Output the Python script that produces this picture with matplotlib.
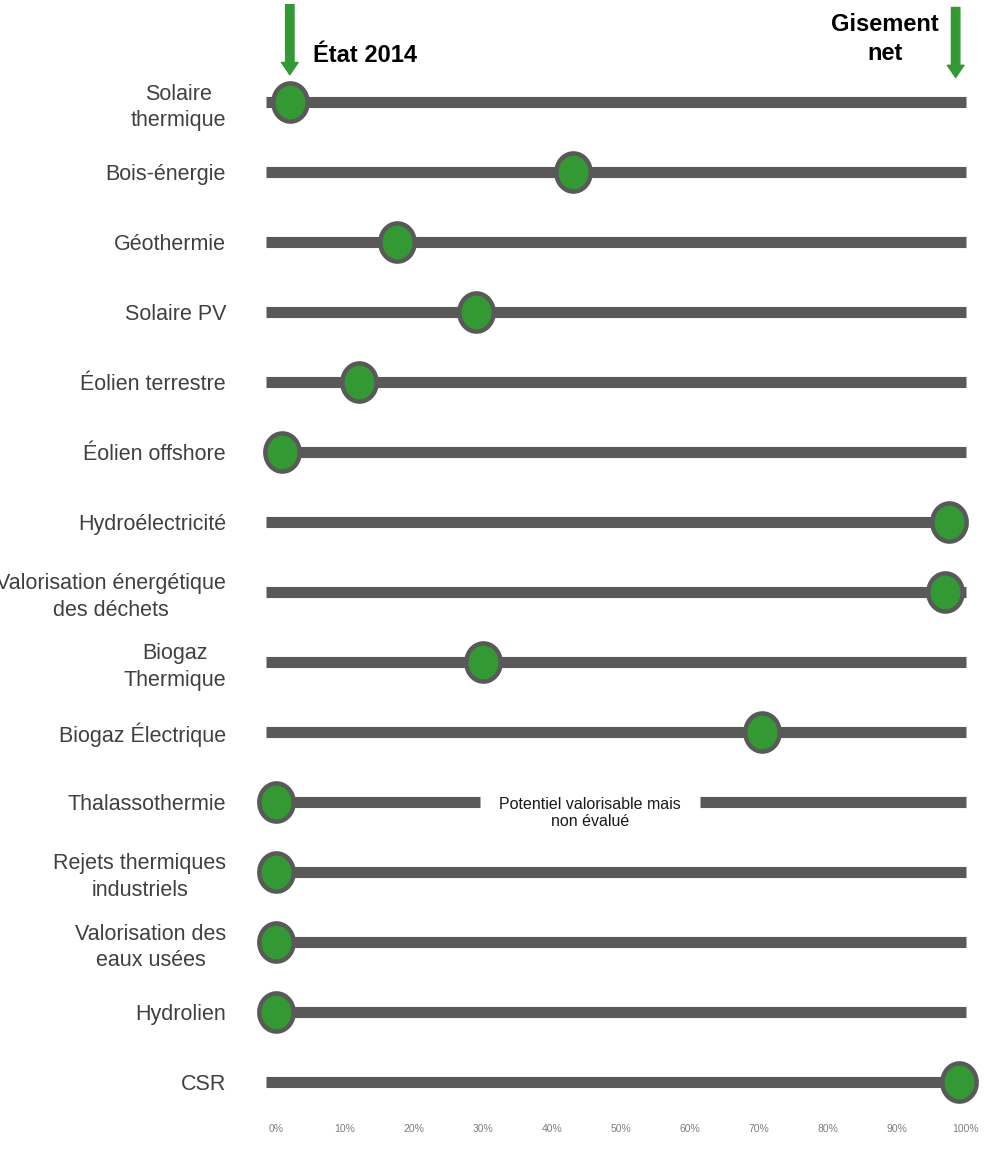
import numpy as np
import matplotlib
matplotlib.use("Agg")
import matplotlib.pyplot as plt
from matplotlib.path import Path

# Filières EnR : part du gisement net déjà exploitée en 2014 (%)
filieres = [
    "Solaire\nthermique",
    "Bois-énergie",
    "Géothermie",
    "Solaire PV",
    "Éolien terrestre",
    "Éolien offshore",
    "Hydroélectricité",
    "Valorisation énergétique\ndes déchets",
    "Biogaz\nThermique",
    "Biogaz Électrique",
    "Thalassothermie",
    "Rejets thermiques\nindustriels",
    "Valorisation des\neaux usées",
    "Hydrolien",
    "CSR",
]
etat_2014 = [2, 43, 17.5, 29, 12, 0.8, 97.5, 97, 30, 70.5, 0, 0, 0, 0, 99]

# Thalassothermie : potentiel non évalué, trou dans la barre
trou_debut, trou_fin = 29.5, 61.5
ticks = list(range(0, 101, 10))
tick_labels = [f"{t}%" for t in ticks]

GREEN = "#339933"
BAR = "#595959"
TEXT = "#404040"

plt.rcParams["font.family"] = ["Liberation Sans", "DejaVu Sans"]

fig = plt.figure(figsize=(9.87, 11.71), dpi=100)
# x : 0 % -> 276 px, 100 % -> 966 px ; lignes espacées de 70 px à partir de 102 px
x0, x1 = -2, 102
left = (276 + x0 * 6.9) / 987
width = (x1 - x0) * 6.9 / 987
ax_bottom_px = 1112
ax = fig.add_axes([left, 1 - ax_bottom_px / 1171, width, ax_bottom_px / 1171])
ax.set_xlim(x0, x1)
ax.set_ylim((ax_bottom_px - 102) / 70, -102 / 70)

# marqueur légèrement ovale
t = np.linspace(0, 2 * np.pi, 60)
ellipse = Path(np.column_stack([0.9 * np.cos(t), np.sin(t)]))

rows = np.arange(len(filieres))
for i, (nom, val) in enumerate(zip(filieres, etat_2014)):
    if nom == "Thalassothermie":
        ax.plot([-1.5, trou_debut], [i, i], color=BAR, lw=8, solid_capstyle="butt", zorder=1)
        ax.plot([trou_fin, 100], [i, i], color=BAR, lw=8, solid_capstyle="butt", zorder=1)
        ax.text((trou_debut + trou_fin) / 2, i + 0.16, "Potentiel valorisable mais\nnon évalué",
                ha="center", va="center", fontsize=11.5, color="#1a1a1a", linespacing=1.15)
    else:
        ax.plot([-1.5, 100], [i, i], color=BAR, lw=8, solid_capstyle="butt", zorder=1)
    ax.plot(val, i, marker=ellipse, ms=27.5, mfc=GREEN, mec=BAR, mew=3.2,
            zorder=3, clip_on=False)

ax.set_yticks(rows)
ax.set_yticklabels(filieres)
ax.tick_params(axis="y", length=0, pad=26, labelsize=15.5, labelcolor=TEXT)
for lab in ax.get_yticklabels():
    lab.set_multialignment("center")
    lab.set_linespacing(1.35)

ax.set_xticks(ticks)
ax.set_xticklabels(tick_labels)
ax.tick_params(axis="x", length=0, pad=9, labelsize=7.5, labelcolor="#7f7f7f")

for s in ax.spines.values():
    s.set_visible(False)

# flèches repères
arrow = dict(arrowstyle="simple,head_length=0.55,head_width=0.75,tail_width=0.38",
             mutation_scale=16, color=GREEN, shrinkA=0, shrinkB=0)
ax.annotate("", xy=(etat_2014[0], -0.39), xytext=(etat_2014[0], -1.39), arrowprops=arrow)
ax.annotate("", xy=(98.5, -0.35), xytext=(98.5, -1.35), arrowprops=arrow)

ax.text(5.3, -0.67, "État 2014", fontweight="bold", fontsize=17,
        ha="left", va="center", color="black")
ax.text(88.2, -0.9, "Gisement\nnet", fontweight="bold", fontsize=17,
        ha="center", va="center", color="black", linespacing=1.3)

fig.savefig("out.png", dpi=100)
